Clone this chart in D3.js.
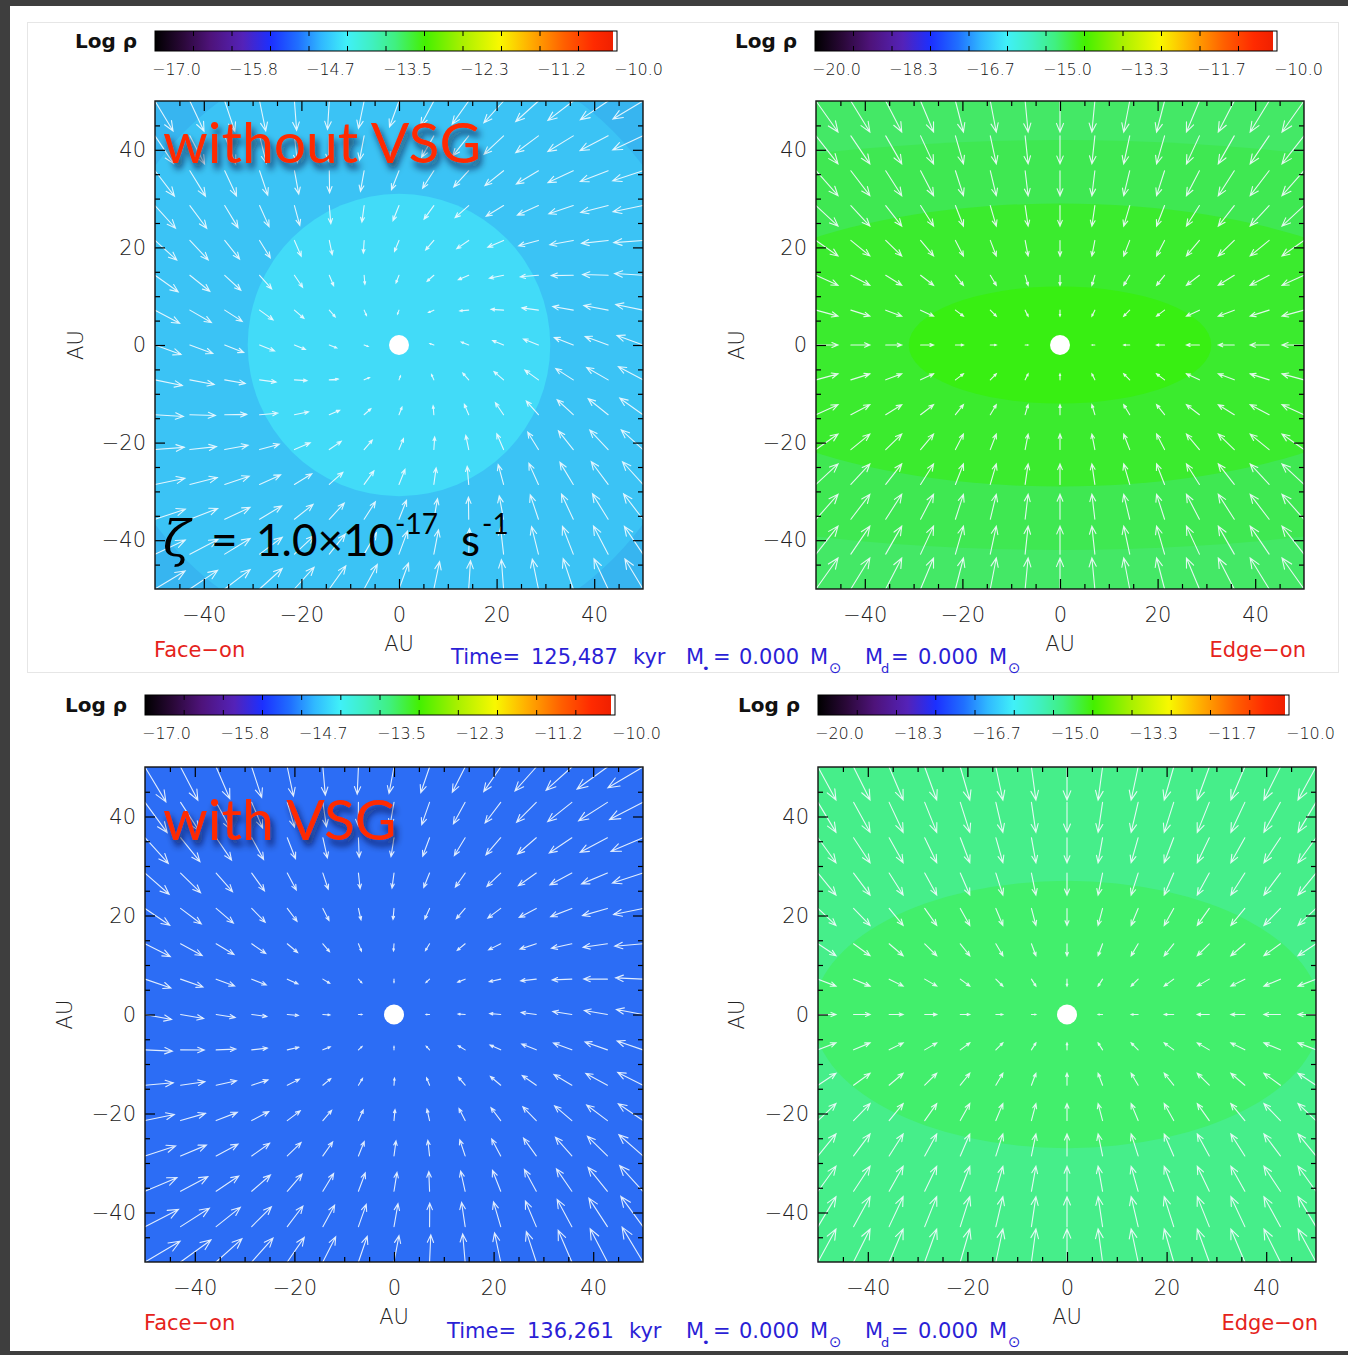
<!DOCTYPE html>
<html>
<head>
<meta charset="utf-8">
<script src="https://cdn.jsdelivr.net/npm/d3@7"></script>
<style>
  body { margin: 0; background: #ffffff; }
</style>
</head>
<body>
<svg id="fig" width="1348" height="1355" font-family="DejaVu Sans, sans-serif"></svg>
<script>
// ---- colour table for the log-density colour bars (fraction -> colour)
const ctPos = [0.00, 0.06, 0.12, 0.19, 0.25, 0.31, 0.36, 0.415, 0.47, 0.52, 0.585, 0.665, 0.745, 0.81, 0.885, 0.95, 0.991, 0.992, 1.0];
const ctCol = ["#000000", "#2a0838", "#4e137a", "#5422b8", "#1c30ff", "#2070ff", "#30b8ff", "#40f0f8", "#40f0c0", "#40f080", "#44f000", "#a8f000", "#f8f800", "#ffb000", "#ff6000", "#ff2a00", "#f02000", "#ffffff", "#ffffff"];

// ---- colour bar tick labels
const faceOnBarLabels = ["−17.0", "−15.8", "−14.7", "−13.5", "−12.3", "−11.2", "−10.0"];
const edgeOnBarLabels = ["−20.0", "−18.3", "−16.7", "−15.0", "−13.3", "−11.7", "−10.0"];

// ---- axes
const axisMajor = [-40, -20, 0, 20, 40];
const axisMinor = [-45, -35, -30, -25, -15, -10, -5, 5, 10, 15, 25, 30, 35, 45];

// ---- velocity grid (AU), 15 x 15 points
const gridAU = [-50, -42.857, -35.714, -28.571, -21.429, -14.286, -7.143, 0, 7.143, 14.286, 21.429, 28.571, 35.714, 42.857, 50];

// ---- face-on velocity profiles (arrow length in AU) vs radius (AU)
const profRadius = [0, 7.14, 14.29, 21.43, 28.57, 35.71, 42.86, 50, 60, 70.71];
const infallNoVSG = [0, 0.82, 1.54, 2.25, 3.07, 3.89, 4.71, 5.33, 6.15, 6.97];
const rotationNoVSG = [0, 0.31, 0.61, 0.92, 1.23, 1.54, 1.74, 1.95, 1.95, 1.74];
const infallVSG = [0, 0.70, 1.41, 2.21, 3.02, 3.82, 4.63, 5.33, 6.64, 7.95];
const rotationVSG = [0, 0, 0.1, 0.2, 0.4, 0.6, 0.8, 1.0, 1.41, 2.01];

// ---- edge-on velocity components (arrow length in AU) by grid offset from the centre
const edgeRadialNoVSG = [0, 0.61, 1.23, 1.64, 2.66, 3.28, 3.89, 4.51];
const edgeVerticalNoVSG = [0, 1.23, 2.05, 3.18, 4.20, 5.12, 5.74, 6.35];
const edgeRadialVSG = [0, 0.90, 1.41, 1.91, 2.41, 2.81, 3.31, 3.61];
const edgeVerticalVSG = [0, 1.41, 2.42, 3.43, 4.44, 5.05, 6.06, 6.67];

// ---- density levels: background colour, then nested contours (semi-axes in AU)
const levelsFaceNoVSG = { fill: ["#37b5f0", "#3bc3f5", "#42dbf8"], ax: [62, 31], bz: [62, 31] };
const levelsEdgeNoVSG = { fill: ["#44e866", "#3fe852", "#3beb2e", "#38ef12"], ax: [140, 77, 31], bz: [42, 29, 12] };
const levelsFaceVSG = { fill: ["#2c6df5"], ax: [], bz: [] };
const levelsEdgeVSG = { fill: ["#46ee8a", "#42ef6c"], ax: [51], bz: [27] };

// ---- annotation strings
const timeNoVSG = "125,487";
const timeVSG = "136,261";
const massStar = "0.000";
const massDisk = "0.000";

const svg = d3.select("#fig");
const defs = svg.append("defs");

// slide background strips
svg.append("rect").attr("x", 0).attr("y", 0).attr("width", 1348).attr("height", 6).attr("fill", "#3e3e3e");
svg.append("rect").attr("x", 0).attr("y", 0).attr("width", 10).attr("height", 1355).attr("fill", "#3e3e3e");
svg.append("rect").attr("x", 0).attr("y", 1351).attr("width", 1348).attr("height", 4).attr("fill", "#3e3e3e");
svg.append("rect").attr("x", 27.5).attr("y", 22.5).attr("width", 1311).attr("height", 650)
  .attr("fill", "none").attr("stroke", "#e6e6e6").attr("stroke-width", 1);

// colour-bar gradient
const grad = defs.append("linearGradient").attr("id", "ctab").attr("x1", "0%").attr("x2", "100%");
ctPos.forEach((p, i) => grad.append("stop").attr("offset", p).attr("stop-color", ctCol[i]));

// drop shadow for the slide captions
const shadow = defs.append("filter").attr("id", "capShadow").attr("x", "-10%").attr("y", "-30%").attr("width", "130%").attr("height", "180%");
shadow.append("feDropShadow").attr("dx", 3).attr("dy", 6).attr("stdDeviation", 3.5)
  .attr("flood-color", "#0a1430").attr("flood-opacity", 0.75);

function colorBar(x0, x1, y0, labels) {
  const g = svg.append("g");
  const h = 20;
  g.append("rect").attr("x", x0).attr("y", y0).attr("width", x1 - x0).attr("height", h)
    .attr("fill", "url(#ctab)").attr("stroke", "#000").attr("stroke-width", 1);
  const s = d3.scaleLinear().domain([0, 12]).range([x0, x1]);
  d3.range(1, 12).forEach(k => {
    g.append("line").attr("x1", s(k)).attr("x2", s(k)).attr("y1", y0).attr("y2", y0 + 5).attr("stroke", "#000");
    g.append("line").attr("x1", s(k)).attr("x2", s(k)).attr("y1", y0 + h - 5).attr("y2", y0 + h).attr("stroke", "#000");
  });
  const ls = d3.scaleLinear().domain([0, labels.length - 1]).range([x0, x1]);
  g.selectAll("text.cb").data(labels).join("text")
    .attr("x", (d, i) => ls(i) - 3).attr("y", y0 + h + 24)
    .attr("font-size", 16).attr("font-weight", 300).attr("fill", "#111").text(d => d);
  g.append("text").attr("x", x0 - 18).attr("y", y0 + 17).attr("text-anchor", "end")
    .attr("font-size", 20).attr("font-weight", "bold").attr("fill", "#111").text("Log ρ");
}

function panel(cfg) {
  const { x0, x1, y0, y1, id } = cfg;
  const x = d3.scaleLinear().domain([-50, 50]).range([x0, x1]);
  const y = d3.scaleLinear().domain([-50, 50]).range([y1, y0]);
  const g = svg.append("g");

  defs.append("clipPath").attr("id", "clip" + id)
    .append("rect").attr("x", x0).attr("y", y0).attr("width", x1 - x0).attr("height", y1 - y0);

  // density map
  const dm = g.append("g").attr("clip-path", `url(#clip${id})`);
  const lv = cfg.levels;
  dm.append("rect").attr("x", x0).attr("y", y0).attr("width", x1 - x0).attr("height", y1 - y0).attr("fill", lv.fill[0]);
  lv.ax.forEach((a, k) => {
    dm.append("ellipse").attr("cx", x(0)).attr("cy", y(0))
      .attr("rx", x(a) - x(0)).attr("ry", y(0) - y(lv.bz[k])).attr("fill", lv.fill[k + 1]);
  });

  // velocity vectors
  const vec = [];
  gridAU.forEach((gx, i) => gridAU.forEach((gy, j) => {
    let dx, dy;
    if (cfg.view === "face") {
      const r = Math.hypot(gx, gy);
      if (r === 0) return;
      const vr = cfg.infall(r), vp = cfg.rot(r);
      dx = (-vr * gx - vp * gy) / r;
      dy = (-vr * gy + vp * gx) / r;
    } else {
      dx = -Math.sign(gx) * cfg.radial[Math.abs(i - 7)];
      dy = -Math.sign(gy) * cfg.vertical[Math.abs(j - 7)];
    }
    vec.push({ gx, gy, dx, dy });
  }));
  const arrows = g.append("g").attr("stroke", "#f4fbff").attr("stroke-width", 1.1)
    .attr("stroke-opacity", 0.9).attr("fill", "none").attr("stroke-linecap", "round");
  vec.forEach(v => {
    const ax = x(v.gx), ay = y(v.gy);
    const bx = x(v.gx + v.dx), by = y(v.gy + v.dy);
    const L = Math.hypot(bx - ax, by - ay);
    if (L < 0.5) return;
    const ang = Math.atan2(by - ay, bx - ax);
    const hl = 0.3 * L, ha = 22.5 * Math.PI / 180;
    const p = d3.path();
    p.moveTo(ax, ay); p.lineTo(bx, by);
    p.moveTo(bx - hl * Math.cos(ang - ha), by - hl * Math.sin(ang - ha));
    p.lineTo(bx, by);
    p.lineTo(bx - hl * Math.cos(ang + ha), by - hl * Math.sin(ang + ha));
    arrows.append("path").attr("d", p.toString());
  });

  // protostar
  g.append("circle").attr("cx", x(0)).attr("cy", y(0)).attr("r", 10).attr("fill", "#ffffff");

  // axes with inward ticks
  const ax = g.append("g");
  const styleAxis = sel => {
    sel.select(".domain").remove();
    sel.selectAll("line").attr("stroke", "#000").attr("stroke-width", 1.2);
    sel.selectAll("text").attr("fill", "#222").attr("font-family", "DejaVu Sans, sans-serif")
      .attr("font-size", 21).attr("font-weight", 300);
  };
  ax.append("g").attr("transform", `translate(0,${y1})`)
    .call(d3.axisBottom(x).tickValues(axisMajor).tickSizeInner(-10).tickSizeOuter(0).tickPadding(18)).call(styleAxis);
  ax.append("g").attr("transform", `translate(0,${y1})`)
    .call(d3.axisBottom(x).tickValues(axisMinor).tickSize(-5).tickFormat("")).call(styleAxis);
  ax.append("g").attr("transform", `translate(0,${y0})`)
    .call(d3.axisTop(x).tickValues(axisMajor).tickSize(-10).tickFormat("")).call(styleAxis);
  ax.append("g").attr("transform", `translate(0,${y0})`)
    .call(d3.axisTop(x).tickValues(axisMinor).tickSize(-5).tickFormat("")).call(styleAxis);
  ax.append("g").attr("transform", `translate(${x0},0)`)
    .call(d3.axisLeft(y).tickValues(axisMajor).tickSizeInner(-10).tickSizeOuter(0).tickPadding(9)).call(styleAxis);
  ax.append("g").attr("transform", `translate(${x0},0)`)
    .call(d3.axisLeft(y).tickValues(axisMinor).tickSize(-5).tickFormat("")).call(styleAxis);
  ax.append("g").attr("transform", `translate(${x1},0)`)
    .call(d3.axisRight(y).tickValues(axisMajor).tickSize(-10).tickFormat("")).call(styleAxis);
  ax.append("g").attr("transform", `translate(${x1},0)`)
    .call(d3.axisRight(y).tickValues(axisMinor).tickSize(-5).tickFormat("")).call(styleAxis);

  g.append("rect").attr("x", x0).attr("y", y0).attr("width", x1 - x0).attr("height", y1 - y0)
    .attr("fill", "none").attr("stroke", "#111").attr("stroke-width", 1.4);

  // axis titles
  g.append("text").attr("x", x(0)).attr("y", y1 + 62).attr("text-anchor", "middle")
    .attr("font-size", 21).attr("font-weight", 300).attr("fill", "#222").text("AU");
  g.append("text").attr("transform", `translate(${cfg.auLeftX},${y(0)}) rotate(-90)`)
    .attr("text-anchor", "middle").attr("dy", "0.35em").attr("font-size", 21).attr("font-weight", 300)
    .attr("fill", "#222").text("AU");

  // view label
  g.append("text").attr("x", cfg.viewX).attr("y", y1 + 68)
    .attr("text-anchor", cfg.view === "face" ? "start" : "end")
    .attr("font-size", 21).attr("fill", "#e5231b").text(cfg.view === "face" ? "Face−on" : "Edge−on");

  colorBar(cfg.cb[0], cfg.cb[1], cfg.cb[2], cfg.view === "face" ? faceOnBarLabels : edgeOnBarLabels);
  return { x, y };
}

panel({ id: "tl", x0: 155, x1: 643, y0: 101, y1: 589, view: "face", levels: levelsFaceNoVSG,
  infall: d3.scaleLinear().domain(profRadius).range(infallNoVSG),
  rot: d3.scaleLinear().domain(profRadius).range(rotationNoVSG),
  auLeftX: 76, viewX: 154, cb: [155, 617, 31] });
panel({ id: "tr", x0: 816, x1: 1304, y0: 101, y1: 589, view: "edge", levels: levelsEdgeNoVSG,
  radial: edgeRadialNoVSG, vertical: edgeVerticalNoVSG, auLeftX: 737, viewX: 1306, cb: [815, 1277, 31] });
panel({ id: "bl", x0: 145, x1: 643, y0: 767, y1: 1262, view: "face", levels: levelsFaceVSG,
  infall: d3.scaleLinear().domain(profRadius).range(infallVSG),
  rot: d3.scaleLinear().domain(profRadius).range(rotationVSG),
  auLeftX: 65, viewX: 144, cb: [145, 615, 695] });
panel({ id: "br", x0: 818, x1: 1316, y0: 767, y1: 1262, view: "edge", levels: levelsEdgeVSG,
  radial: edgeRadialVSG, vertical: edgeVerticalVSG, auLeftX: 737, viewX: 1318, cb: [818, 1289, 695] });

// time / mass line under each pair of panels
function infoLine(timeX, base, time) {
  const g = svg.append("g").attr("fill", "#2b1fd6");
  const t = (x, y, s, fs) => g.append("text").attr("x", x).attr("y", y).attr("font-size", fs || 21).text(s);
  t(timeX, base, "Time=");
  t(timeX + 80, base, time);
  t(timeX + 182, base, "kyr");
  t(686, base, "M"); t(702, base + 9, "•", 13); t(713, base, "=");
  t(739, base, massStar);
  t(810, base, "M"); t(829, base + 9, "⊙", 15);
  t(865, base, "M"); t(881, base + 9, "d", 13); t(891, base, "=");
  t(918, base, massDisk);
  t(989, base, "M"); t(1008, base + 9, "⊙", 15);
}
infoLine(451, 664, timeNoVSG);
infoLine(447, 1338, timeVSG);

// slide captions
svg.append("text").attr("x", 163).attr("y", 163).attr("font-family", "Lato, sans-serif")
  .attr("font-size", 57).attr("fill", "#ff2a00").attr("filter", "url(#capShadow)").text("without VSG");
svg.append("text").attr("x", 163).attr("y", 840).attr("font-family", "Lato, sans-serif")
  .attr("font-size", 57).attr("fill", "#ff2a00").attr("filter", "url(#capShadow)").text("with VSG");

// ionisation rate annotation
const z = svg.append("g").attr("fill", "#000").attr("font-family", "Lato, sans-serif");
z.append("text").attr("x", 163).attr("y", 556).attr("font-size", 50).attr("font-style", "italic")
  .attr("font-family", "DejaVu Serif, serif").text("ζ");
z.append("text").attr("x", 211).attr("y", 556).attr("font-size", 46).text("=");
z.append("text").attr("x", 256).attr("y", 556).attr("font-size", 44).text("1.0×10");
z.append("text").attr("x", 395).attr("y", 534).attr("font-size", 28).text("-17");
z.append("text").attr("x", 461).attr("y", 556).attr("font-size", 44).text("s");
z.append("text").attr("x", 482).attr("y", 534).attr("font-size", 28).text("-1");
</script>
</body>
</html>
